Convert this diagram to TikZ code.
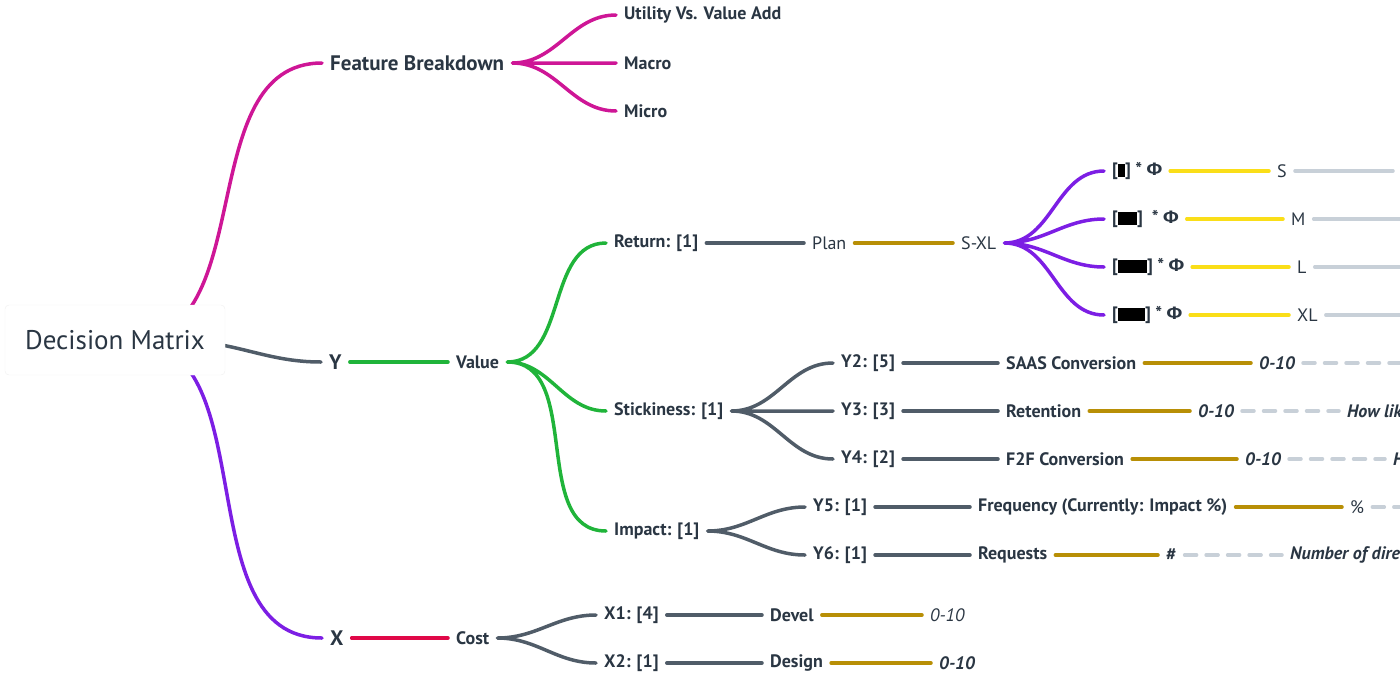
\documentclass[tikz,border=0pt]{standalone}
\usepackage{fontspec}
\setmainfont{PT Sans}
\newfontfamily\phifont{Fira Sans}
\usepackage{xcolor}
\usetikzlibrary{positioning}

\definecolor{ink}{RGB}{42,54,67}
\definecolor{slate}{RGB}{80,92,104}
\definecolor{fbpink}{RGB}{206,22,150}
\definecolor{valgreen}{RGB}{32,180,58}
\definecolor{mxpurple}{RGB}{124,30,228}
\definecolor{costred}{RGB}{224,8,72}
\definecolor{gold}{RGB}{184,143,6}
\definecolor{sunny}{RGB}{250,222,24}
\definecolor{mist}{RGB}{200,208,216}

\newcommand{\blk}[1]{{\color{black}\rule[-1.5pt]{#1}{13pt}}}
\newcommand{\bigphi}{{\phifont Φ}}

\begin{document}
\begin{tikzpicture}[x=1pt,y=-1pt,
	lbl/.style={anchor=west,xshift=-8pt,inner xsep=8pt,inner ysep=1pt,text=ink},
	topic/.style={lbl,font=\bfseries\fontsize{21}{24}\selectfont},
	sub/.style={lbl,font=\bfseries\fontsize{18}{21}\selectfont},
	plain/.style={lbl,font=\fontsize{18}{21}\selectfont},
	note/.style={lbl,font=\bfseries\itshape\fontsize{18}{21}\selectfont},
	link/.style={line width=3.5pt,line cap=round},
	fork/.style={link,out=0,in=180},
	dashline/.style={link,mist,dash pattern=on 12pt off 9.5pt}]
	
	\useasboundingbox (0,0) rectangle (1400,681);
	\clip (0,0) rectangle (1400,681);
	
	\node[topic] (fb) at (330,63) {Feature Breakdown};
	\node[sub] (fb1) at (624,15) {Utility Vs. Value Add};
	\node[sub] (fb2) at (624,63) {Macro};
	\node[sub] (fb3) at (624,111) {Micro};
	
	\node[topic] (y) at (329,362) {Y};
	\node[sub] (val) at (456,362) {Value};
	
	\node[sub] (ret) at (614,243) {Return: [1]};
	\node[plain] (plan) at (812,243) {Plan};
	\node[plain] (sxl) at (961,243) {S-XL};
	\node[sub] (s1) at (1112,171) {[\blk{7pt}] * \bigphi};
	\node[sub] (s2) at (1112,219) {[\blk{19pt}]\ \ * \bigphi};
	\node[sub] (s3) at (1112,267) {[\blk{29pt}] * \bigphi};
	\node[sub] (s4) at (1112,315) {[\blk{27pt}] * \bigphi};
	\node[plain] (sz1) at (1277,171) {S};
	\node[plain] (sz2) at (1291,219) {M};
	\node[plain] (sz3) at (1297,267) {L};
	\node[plain] (sz4) at (1297,315) {XL};
	\coordinate (e1) at (1393,171);
	\coordinate (e2) at (1412,219);
	\coordinate (e3) at (1412,267);
	\coordinate (e4) at (1412,315);
	
	\node[sub] (sti) at (614,411) {Stickiness: [1]};
	\node[sub] (y2) at (841,363) {Y2: [5]};
	\node[sub] (y3) at (841,411) {Y3: [3]};
	\node[sub] (y4) at (841,459) {Y4: [2]};
	\node[sub] (saas) at (1006,363) {SAAS Conversion};
	\node[sub] (kept) at (1006,411) {Retention};
	\node[sub] (f2f) at (1006,459) {F2F Conversion};
	\node[note] (saas10) at (1259,363) {0-10};
	\node[note] (kept10) at (1198,411) {0-10};
	\node[note] (f2f10) at (1245,459) {0-10};
	\coordinate (e5) at (1412,363);
	\node[note] (howlik) at (1347,411) {How lik};
	\node[note] (howh) at (1393,459) {H};
	
	\node[sub] (imp) at (614,531) {Impact: [1]};
	\node[sub] (y5) at (813,507) {Y5: [1]};
	\node[sub] (y6) at (813,555) {Y6: [1]};
	\node[sub] (freq) at (978,507) {Frequency (Currently: Impact \%)};
	\node[sub] (reqs) at (978,555) {Requests};
	\node[plain] (pct) at (1350,507) {\%};
	\node[sub] (hash) at (1166,555) {\#};
	\coordinate (e6) at (1412,507);
	\node[note] (numdir) at (1290,555) {Number of dire};
	
	\node[topic] (x) at (330,638) {X};
	\node[sub] (cost) at (456,638) {Cost};
	\node[sub] (x1) at (604,615) {X1: [4]};
	\node[sub] (x2) at (604,663) {X2: [1]};
	\node[sub] (dev) at (770,615) {Devel};
	\node[sub] (des) at (770,663) {Design};
	\node[lbl,font=\itshape\fontsize{18}{21}\selectfont] (dev10) at (930,615) {0-10};
	\node[note] (des10) at (939,663) {0-10};
	
	\coordinate (rc) at (130,340);
	\coordinate (rm) at (180,341);
	\draw[fork,fbpink] (rc) to (fb.west);
	\draw[fork,slate] (rm) to (y.west);
	\draw[fork,mxpurple] (rc) to (x.west);
	
	\node[draw=black!6,fill=white,rounded corners=4pt,minimum width=220pt,minimum height=70pt,
	text=ink,font=\fontsize{27}{32}\selectfont] (root) at (115,340) {Decision Matrix};
	
	\draw[fork,fbpink] (fb.east) to (fb1.west) (fb.east) to (fb2.west) (fb.east) to (fb3.west);
	
	\draw[link,valgreen] (y) -- (val);
	\draw[fork,valgreen] (val.east) to (ret.west) (val.east) to (sti.west) (val.east) to (imp.west);
	
	\draw[link,slate] (ret) -- (plan);
	\draw[link,gold] (plan) -- (sxl);
	\draw[fork,mxpurple] (sxl.east) to (s1.west) (sxl.east) to (s2.west)
		(sxl.east) to (s3.west) (sxl.east) to (s4.west);
	\foreach \i in {1,...,4}{
		\draw[link,sunny] (s\i) -- (sz\i);
		\draw[link,mist] (sz\i) -- (e\i);
	}
	
	\draw[fork,slate] (sti.east) to (y2.west) (sti.east) to (y3.west) (sti.east) to (y4.west);
	\draw[link,slate] (y2) -- (saas);
	\draw[link,slate] (y3) -- (kept);
	\draw[link,slate] (y4) -- (f2f);
	\draw[link,gold] (saas) -- (saas10);
	\draw[link,gold] (kept) -- (kept10);
	\draw[link,gold] (f2f) -- (f2f10);
	\draw[dashline] (saas10) -- (e5);
	\draw[dashline] (kept10) -- (howlik);
	\draw[dashline] (f2f10) -- (howh);
	
	\draw[fork,slate] (imp.east) to (y5.west) (imp.east) to (y6.west);
	\draw[link,slate] (y5) -- (freq);
	\draw[link,slate] (y6) -- (reqs);
	\draw[link,gold] (freq) -- (pct);
	\draw[link,gold] (reqs) -- (hash);
	\draw[dashline] (pct) -- (e6);
	\draw[dashline] (hash) -- (numdir);
	
	\draw[link,costred] (x) -- (cost);
	\draw[fork,slate] (cost.east) to (x1.west) (cost.east) to (x2.west);
	\draw[link,slate] (x1) -- (dev);
	\draw[link,slate] (x2) -- (des);
	\draw[link,gold] (dev) -- (dev10);
	\draw[link,gold] (des) -- (des10);
	
\end{tikzpicture}
\end{document}
